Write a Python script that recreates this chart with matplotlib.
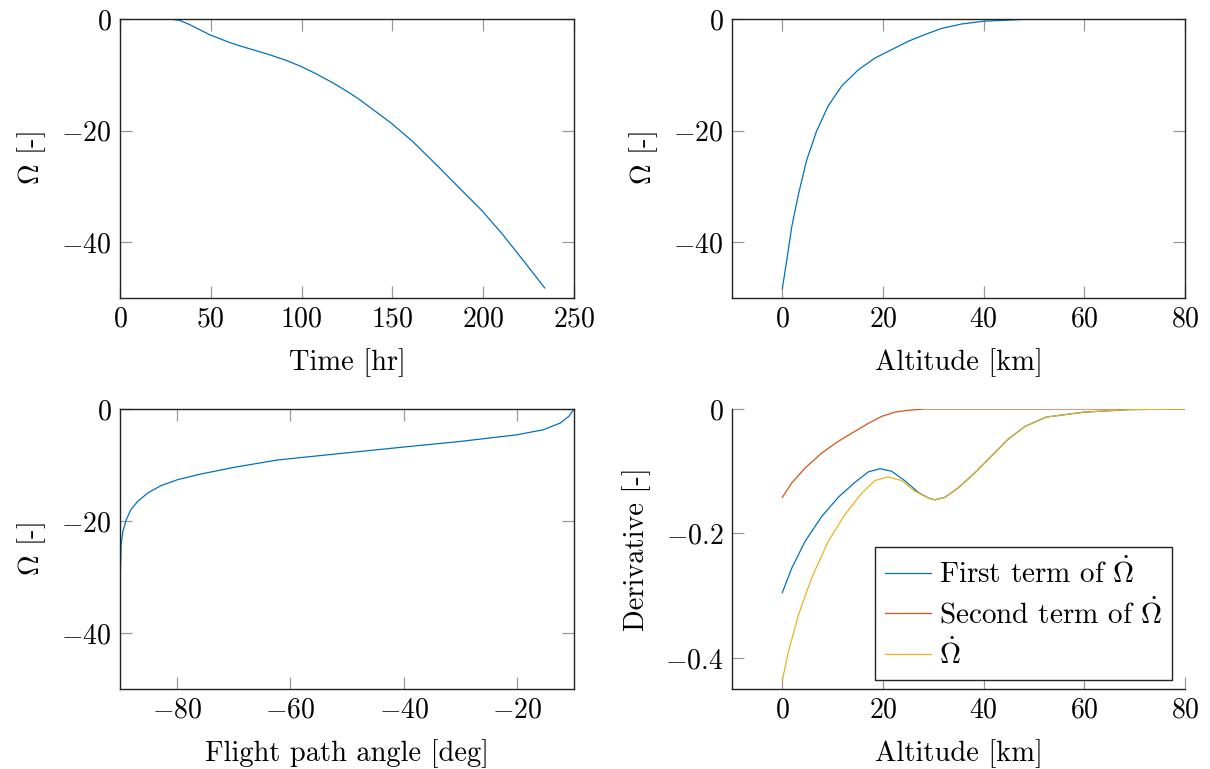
import matplotlib
matplotlib.use("Agg")
import matplotlib.pyplot as plt
from matplotlib.ticker import FuncFormatter

# ---- data ----
time_hr = [0, 15, 27.3, 32.8, 38.3, 43.8, 49.3, 54.8, 60.3, 65.8, 73.1, 82.3, 91.4,
           99.7, 107.9, 117, 126.2, 131.7, 140, 149.5, 161, 175.7, 186.6, 199.5,
           210.4, 221.4, 233.9]
omega_time = [0, 0, 0, -0.24, -1.0, -1.9, -2.8, -3.5, -4.2, -4.8, -5.5, -6.4, -7.4,
              -8.5, -9.8, -11.4, -13.2, -14.4, -16.4, -18.7, -21.9, -26.6, -30.2,
              -34.4, -38.5, -43.0, -48.2]

alt_km = [0, 0.87, 1.86, 3.2, 4.8, 6.8, 9.1, 11.8, 15.1, 18.4, 21.7, 25, 28.3, 31.6,
          35.6, 40, 44.8, 48.2, 55, 65, 80]
omega_alt = [-48.3, -43.3, -37.3, -31.4, -25.4, -20.1, -15.6, -12.0, -9.1, -7.0,
             -5.5, -4.0, -2.8, -1.7, -0.9, -0.4, -0.2, -0.05, 0, 0, 0]

fpa_deg = [-90, -89.97, -89.93, -89.8, -89.5, -88.9, -88.1, -86.9, -85.1, -82.8,
           -79.8, -75.7, -69.8, -62.2, -53.6, -40.1, -30.1, -20.0, -15.4, -12.4,
           -10.9, -10]
omega_fpa = [-48.3, -36, -29.0, -24.2, -21.9, -19.8, -18.0, -16.5, -15.0, -13.7,
             -12.6, -11.6, -10.4, -9.1, -8.2, -6.8, -5.8, -4.6, -3.7, -2.5, -1.3, 0]

first_alt = [0, 1.86, 4.5, 7.8, 11.1, 14.4, 17.1, 19.4, 21.7, 24.3, 27, 29, 30.3,
             32.3, 34.9, 38.2, 41.5, 44.8, 48.2, 52.4, 60, 69, 80]
first_term = [-0.295, -0.256, -0.213, -0.173, -0.142, -0.118, -0.101, -0.096, -0.100,
              -0.115, -0.134, -0.143, -0.146, -0.142, -0.127, -0.103, -0.076, -0.049,
              -0.028, -0.013, -0.005, -0.001, 0]

second_alt = [0, 1.86, 4.5, 7.8, 11.1, 14.4, 17.1, 19.7, 22.4, 25, 28.3, 40, 60, 80]
second_term = [-0.142, -0.119, -0.095, -0.071, -0.052, -0.036, -0.023, -0.012, -0.005,
               -0.002, 0, 0, 0, 0]

dot_alt = [0, 1.2, 3.2, 5.8, 9.1, 12.4, 15.8, 18.4, 21, 23.7, 26.3, 29, 30.3, 32.3,
           34.9, 38.2, 41.5, 44.8, 48.2, 52.4, 60, 69, 80]
omega_dot = [-0.436, -0.390, -0.331, -0.272, -0.213, -0.170, -0.135, -0.115, -0.109,
             -0.115, -0.132, -0.143, -0.146, -0.142, -0.127, -0.103, -0.076, -0.049,
             -0.028, -0.013, -0.005, -0.001, 0]

C_BLUE = "#0072BD"
C_ORANGE = "#D95319"
C_YELLOW = "#EDB120"

plt.rcParams.update({
    "font.family": "serif",
    "font.serif": ["cmr10"],
    "mathtext.fontset": "cm",
    "axes.formatter.use_mathtext": True,
    "font.size": 20.5,
    "axes.unicode_minus": True,
})

W, H = 1210, 769
fig = plt.figure(figsize=(W / 100, H / 100), dpi=100)


def add_ax(x0, y0, x1, y1):
    return fig.add_axes([x0 / W, 1 - y1 / H, (x1 - x0) / W, (y1 - y0) / H])


math_fmt = FuncFormatter(lambda v, p: r"$%g$" % v)


def style(ax, box=True):
    for s in ax.spines.values():
        s.set_linewidth(1.0)
        s.set_color("#222222")
    ax.tick_params(direction="in", length=8.5, width=0.9, color="#999999",
                   labelsize=20, pad=6, top=box, right=box)
    ax.xaxis.set_major_formatter(math_fmt)
    ax.yaxis.set_major_formatter(math_fmt)
    ax.xaxis.labelpad = 11
    ax.yaxis.labelpad = 10
    if not box:
        ax.spines["top"].set_visible(False)
        ax.spines["right"].set_visible(False)


lw = 0.9

ax1 = add_ax(120, 19, 574, 298)
ax1.plot(time_hr, omega_time, color=C_BLUE, lw=lw)
ax1.set_xlim(0, 250)
ax1.set_ylim(-50, 0)
ax1.set_xticks([0, 50, 100, 150, 200, 250])
ax1.set_yticks([-40, -20, 0])
ax1.set_xlabel("Time [hr]")
ax1.set_ylabel(r"$\Omega$ [-]")
style(ax1)

ax2 = add_ax(732, 19, 1185, 298)
ax2.plot(alt_km, omega_alt, color=C_BLUE, lw=lw)
ax2.set_xlim(-10, 80)
ax2.set_ylim(-50, 0)
ax2.set_xticks([0, 20, 40, 60, 80])
ax2.set_yticks([-40, -20, 0])
ax2.set_xlabel("Altitude [km]")
ax2.set_ylabel(r"$\Omega$ [-]")
style(ax2)

ax3 = add_ax(120, 409, 574, 689)
ax3.plot(fpa_deg, omega_fpa, color=C_BLUE, lw=lw)
ax3.set_xlim(-90, -10)
ax3.set_ylim(-50, 0)
ax3.set_xticks([-80, -60, -40, -20])
ax3.set_yticks([-40, -20, 0])
ax3.set_xlabel("Flight path angle [deg]")
ax3.set_ylabel(r"$\Omega$ [-]")
style(ax3)

ax4 = add_ax(732, 409, 1185, 689)
ax4.plot(first_alt, first_term, color=C_BLUE, lw=lw, label=r"First term of $\dot{\Omega}$")
ax4.plot(second_alt, second_term, color=C_ORANGE, lw=lw, label=r"Second term of $\dot{\Omega}$")
ax4.plot(dot_alt, omega_dot, color=C_YELLOW, lw=lw, label=r"$\dot{\Omega}$")
ax4.set_xlim(-10, 80)
ax4.set_ylim(-0.45, 0)
ax4.set_xticks([0, 20, 40, 60, 80])
ax4.set_yticks([-0.4, -0.2, 0])
ax4.set_xlabel("Altitude [km]")
ax4.set_ylabel("Derivative [-]")
style(ax4, box=False)
leg = ax4.legend(loc="lower right", bbox_to_anchor=(0.972, 0.032), fancybox=False,
                 framealpha=1, edgecolor="#222222", fontsize=21, handlelength=1.6,
                 handletextpad=0.25, borderpad=0.35, labelspacing=0.3, borderaxespad=0)
leg.get_frame().set_linewidth(1.0)

fig.savefig("out.png", dpi=100)
